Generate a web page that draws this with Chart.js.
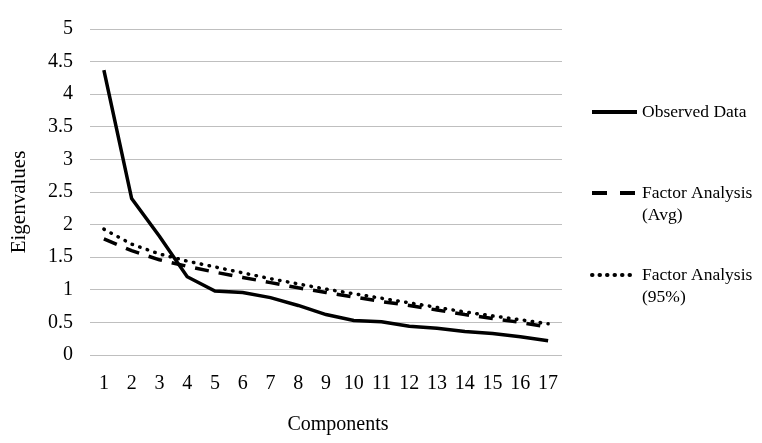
<!DOCTYPE html>
<html>
<head>
<meta charset="utf-8">
<script src="https://cdn.jsdelivr.net/npm/chart.js@4/dist/chart.umd.min.js"></script>
<style>
html,body{margin:0;padding:0;background:#fff;}
#wrap{position:relative;width:762px;height:443px;}
</style>
</head>
<body>
<div id="wrap"><canvas id="c" width="762" height="443"></canvas></div>
<script>
const components = ['1','2','3','4','5','6','7','8','9','10','11','12','13','14','15','16','17'];
const observed = [4.37, 2.40, 1.82, 1.20, 0.98, 0.96, 0.88, 0.76, 0.62, 0.53, 0.51, 0.44, 0.41, 0.36, 0.33, 0.28, 0.22];
const faAvg = [1.78, 1.60, 1.46, 1.36, 1.27, 1.19, 1.11, 1.03, 0.96, 0.89, 0.82, 0.76, 0.69, 0.62, 0.56, 0.50, 0.43];
const fa95 = [1.93, 1.70, 1.55, 1.44, 1.35, 1.26, 1.17, 1.09, 1.01, 0.94, 0.87, 0.80, 0.73, 0.66, 0.60, 0.54, 0.48];
const seriesNames = [['Observed Data'], ['Factor Analysis', '(Avg)'], ['Factor Analysis', '(95%)']];
const yTicks = [0, 0.5, 1, 1.5, 2, 2.5, 3, 3.5, 4, 4.5, 5];
const xTitle = 'Components';
const yTitle = 'Eigenvalues';

const FONT = '"Liberation Serif", "Times New Roman", serif';

const legendPlugin = {
  id: 'sideLegend',
  afterDraw(chart) {
    const ctx = chart.ctx;
    const ys = [112, 193, 275];
    ctx.save();
    chart.data.datasets.forEach((ds, i) => {
      const y = ys[i];
      ctx.beginPath();
      ctx.strokeStyle = ds.borderColor;
      ctx.lineWidth = ds.borderWidth + 0.5;
      ctx.lineCap = ds.borderCapStyle || 'butt';
      ctx.setLineDash(ds.legendDash || []);
      ctx.moveTo(592, y);
      ctx.lineTo(637, y);
      ctx.stroke();
      ctx.setLineDash([]);
      ctx.fillStyle = '#000';
      ctx.font = '17.5px ' + FONT;
      ctx.textBaseline = 'middle';
      ctx.textAlign = 'left';
      seriesNames[i].forEach((t, k) => ctx.fillText(t, 642, y + k * 22));
    });
    // axis titles
    ctx.fillStyle = '#000';
    ctx.font = '20px ' + FONT;
    ctx.textAlign = 'center';
    ctx.textBaseline = 'middle';
    ctx.fillText(xTitle, 338, 425);
    ctx.translate(19, 202);
    ctx.rotate(-Math.PI / 2);
    ctx.font = '21px ' + FONT;
    ctx.fillText(yTitle, 0, 0);
    ctx.restore();
  }
};

new Chart(document.getElementById('c'), {
  type: 'line',
  data: {
    labels: components,
    datasets: [
      { label: seriesNames[0].join(' '), data: observed, borderColor: '#000', borderWidth: 3.5, pointRadius: 0, tension: 0, fill: false, legendDash: [] },
      { label: seriesNames[1].join(' '), data: faAvg, borderColor: '#000', borderWidth: 3.5, borderDash: [14, 10], pointRadius: 0, tension: 0, fill: false, legendDash: [15, 13] },
      { label: seriesNames[2].join(' '), data: fa95, borderColor: '#000', borderWidth: 3.5, borderDash: [0.5, 7.5], borderCapStyle: 'round', pointRadius: 0, tension: 0, fill: false, legendDash: [0.5, 7] }
    ]
  },
  options: {
    responsive: false,
    animation: false,
    layout: { padding: { top: 24, right: 200, bottom: 0, left: 0 } },
    plugins: { legend: { display: false }, tooltip: { enabled: false } },
    scales: {
      x: {
        offset: true,
        grid: { display: false, drawTicks: false },
        border: { display: false },
        ticks: { color: '#000', font: { family: FONT, size: 20 }, padding: 17, maxRotation: 0, autoSkip: false },
        afterFit(s) { s.height = 88; }
      },
      y: {
        min: 0, max: 5,
        afterBuildTicks(s) { s.ticks = yTicks.map(v => ({ value: v })); },
        grid: { color: '#bfbfbf', lineWidth: 1, drawTicks: false },
        border: { display: false },
        ticks: { color: '#000', font: { family: FONT, size: 20 }, padding: 17, callback: v => String(v) },
        afterFit(s) { s.width = 90; }
      }
    }
  },
  plugins: [legendPlugin]
});
</script>
</body>
</html>
